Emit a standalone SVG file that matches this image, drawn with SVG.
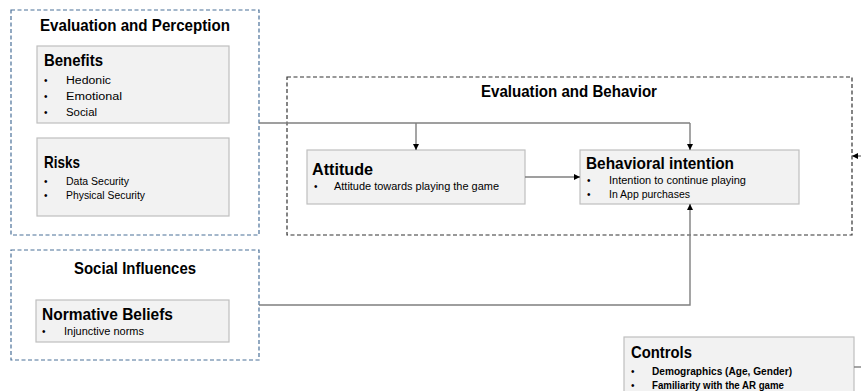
<svg xmlns="http://www.w3.org/2000/svg" width="861" height="391" viewBox="0 0 861 391">
<style>
text{font-family:"Liberation Sans",Arial,sans-serif;fill:#000}
.h{font-weight:bold;font-size:17px}
.t{font-size:10px}
.b{font-size:10px}
.g{fill:none;stroke-width:1.2;stroke-dasharray:4 2.5}
.blue{stroke:#4a7098}
.blk{stroke:#333}
.n{fill:#f2f2f2;stroke:#bfbfbf;stroke-width:1.2}
.c{fill:none;stroke:#7f7f7f;stroke-width:1.4}
</style>
<defs>
<marker id="a" viewBox="0 0 10 10" refX="10" refY="5" markerWidth="6" markerHeight="6" markerUnits="userSpaceOnUse" orient="auto">
<path d="M0,0L10,5L0,10z" fill="#000"/>
</marker>
</defs>
<g id="group-eval-perception">
<rect class="g blue" x="11" y="10" width="248" height="225"/>
<text class="h" x="40" y="31" textLength="190" lengthAdjust="spacingAndGlyphs">Evaluation and Perception</text>
</g>
<g id="benefits">
<rect class="n" x="37" y="46" width="192" height="77"/>
<text class="h" x="44" y="66" textLength="59" lengthAdjust="spacingAndGlyphs">Benefits</text>
<text class="b" x="44" y="84">•</text><text class="t" x="66" y="84" font-size="11.5" textLength="45" lengthAdjust="spacingAndGlyphs">Hedonic</text>
<text class="b" x="44" y="100">•</text><text class="t" x="66" y="100" font-size="11.5" textLength="56" lengthAdjust="spacingAndGlyphs">Emotional</text>
<text class="b" x="44" y="116">•</text><text class="t" x="66" y="116" font-size="11.5" textLength="31" lengthAdjust="spacingAndGlyphs">Social</text>
</g>
<g id="risks">
<rect class="n" x="37" y="138" width="192" height="78"/>
<text class="h" x="44" y="168" textLength="36" lengthAdjust="spacingAndGlyphs">Risks</text>
<text class="b" x="44" y="185">•</text><text class="t" x="66" y="185" font-size="10.5" textLength="63" lengthAdjust="spacingAndGlyphs">Data Security</text>
<text class="b" x="44" y="199">•</text><text class="t" x="66" y="199" font-size="10.5" textLength="79" lengthAdjust="spacingAndGlyphs">Physical Security</text>
</g>
<g id="group-social">
<rect class="g blue" x="11" y="250" width="248" height="110"/>
<text class="h" x="74" y="274" textLength="122" lengthAdjust="spacingAndGlyphs">Social Influences</text>
</g>
<g id="normative-beliefs">
<rect class="n" x="36" y="300" width="193" height="42"/>
<text class="h" x="42" y="320" font-size="17.5" textLength="131" lengthAdjust="spacingAndGlyphs">Normative Beliefs</text>
<text class="b" x="42" y="335">•</text><text class="t" x="64" y="335" font-size="10.5" textLength="80" lengthAdjust="spacingAndGlyphs">Injunctive norms</text>
</g>
<g id="group-eval-behavior">
<rect class="g blk" x="287" y="77" width="565" height="158"/>
<text class="h" x="481" y="97" textLength="176" lengthAdjust="spacingAndGlyphs">Evaluation and Behavior</text>
</g>
<g id="attitude">
<rect class="n" x="307" y="150" width="218" height="54"/>
<text class="h" x="312" y="175" textLength="61" lengthAdjust="spacingAndGlyphs">Attitude</text>
<text class="b" x="314" y="190">•</text><text class="t" x="334" y="190" font-size="10.5" textLength="165" lengthAdjust="spacingAndGlyphs">Attitude towards playing the game</text>
</g>
<g id="behavioral-intention">
<rect class="n" x="580" y="150" width="219" height="54"/>
<text class="h" x="586" y="169" textLength="148" lengthAdjust="spacingAndGlyphs">Behavioral intention</text>
<text class="b" x="587" y="184">•</text><text class="t" x="609" y="184" font-size="11" textLength="137" lengthAdjust="spacingAndGlyphs">Intention to continue playing</text>
<text class="b" x="587" y="198">•</text><text class="t" x="609" y="198" font-size="11" textLength="81" lengthAdjust="spacingAndGlyphs">In App purchases</text>
</g>
<g id="controls">
<rect class="n" x="624" y="337" width="230" height="60"/>
<text class="h" x="631" y="358" textLength="61" lengthAdjust="spacingAndGlyphs">Controls</text>
<text class="b" x="631" y="375">•</text><text class="t" x="652" y="375" font-weight="bold" font-size="11" textLength="140" lengthAdjust="spacingAndGlyphs">Demographics (Age, Gender)</text>
<text class="b" x="631" y="389">•</text><text class="t" x="652" y="389" font-weight="bold" font-size="11" textLength="132" lengthAdjust="spacingAndGlyphs">Familiarity with the AR game</text>
</g>
<g id="connectors">
<path class="c" d="M259,123H690"/>
<path class="c" d="M416,123V150" marker-end="url(#a)"/>
<path class="c" d="M690,123V150" marker-end="url(#a)"/>
<path class="c" d="M525,177H580" marker-end="url(#a)"/>
<path class="c" d="M259,305H690V204" marker-end="url(#a)"/>
<path class="c" d="M861,156H852" marker-end="url(#a)"/>
<path class="c" d="M854,367H861"/>
</g>
</svg>
